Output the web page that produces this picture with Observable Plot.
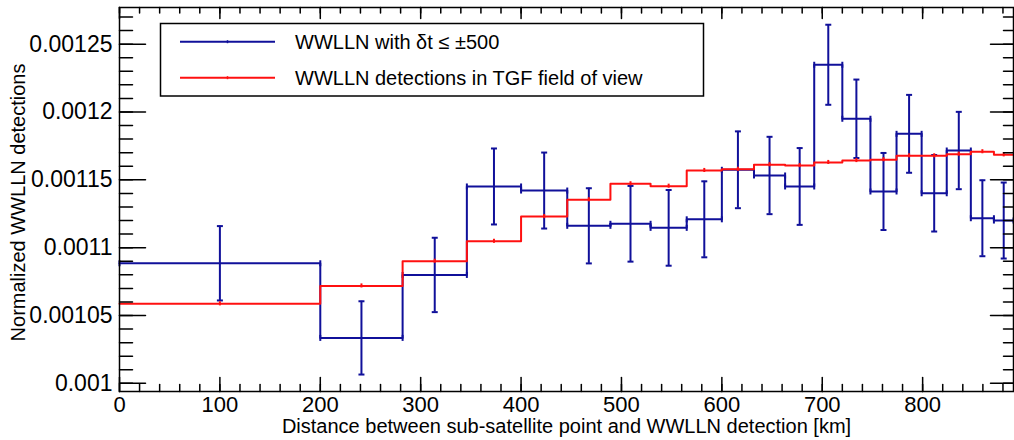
<!DOCTYPE html>
<html><head><meta charset="utf-8">
<script src="https://cdn.jsdelivr.net/npm/d3@7"></script>
<script src="https://cdn.jsdelivr.net/npm/@observablehq/plot@0.6"></script>
<style>
body{margin:0;background:#fff;}
#wrap{position:relative;width:1014px;height:440px;font-family:"Liberation Sans",Arial,Helvetica,sans-serif;}
#wrap svg{display:block;}
#overlay{position:absolute;left:0;top:0;pointer-events:none;}
</style></head><body><div id="wrap"></div>
<script>
// ---- data ----
const binEdges = [0,200,282,346,400,446,489,529,565,600,632,663,692,720,748,774,799,824,848,871,890.5];
const blueValues = [0.0010885,0.0010335,0.0010799,0.0011451,0.0011421,0.0011161,0.0011176,0.0011146,0.0011209,0.0011574,0.0011532,0.0011451,0.0012348,0.0011950,0.0011414,0.0011839,0.0011401,0.0011716,0.0011217,0.0011200];
const blueErrors = [0.0000274,0.0000270,0.0000274,0.0000280,0.0000280,0.0000277,0.0000279,0.0000279,0.0000280,0.0000283,0.0000285,0.0000283,0.0000295,0.0000289,0.0000284,0.0000287,0.0000282,0.0000285,0.0000280,0.0000280];
const redValues = [0.0010586,0.0010718,0.0010900,0.0011047,0.0011229,0.0011353,0.0011471,0.0011453,0.0011569,0.0011578,0.0011611,0.0011605,0.0011628,0.0011642,0.0011648,0.0011677,0.0011677,0.0011689,0.0011707,0.0011684];
const redErrors = [0.0000015,0.0000015,0.0000015,0.0000015,0.0000015,0.0000015,0.0000015,0.0000015,0.0000015,0.0000015,0.0000015,0.0000015,0.0000015,0.0000015,0.0000015,0.0000015,0.0000015,0.0000015,0.0000015,0.0000015];
const seriesNames = ["WWLLN with \u03b4t \u2264 \u00b1500", "WWLLN detections in TGF field of view"];
const xTicks = [0,100,200,300,400,500,600,700,800];
const xTickLabels = ["0","100","200","300","400","500","600","700","800"];
const xMinorTicks = d3.range(0, 890, 20);
const yTicks = [0.001,0.00105,0.0011,0.00115,0.0012,0.00125];
const yTickLabels = ["0.001","0.00105","0.0011","0.00115","0.0012","0.00125"];
const yMinorTicks = [0.00100,0.00101,0.00102,0.00103,0.00104,0.00105,0.00106,0.00107,0.00108,0.00109,0.00110,0.00111,0.00112,0.00113,0.00114,0.00115,0.00116,0.00117,0.00118,0.00119,0.00120,0.00121,0.00122,0.00123,0.00124,0.00125,0.00126,0.00127];
const xDomain = [0, 890.5];
const yDomain = [0.000994, 0.001277];
const xTitle = "Distance between sub-satellite point and WWLLN detection [km]";
const yTitle = "Normalized WWLLN detections";

const BLUE = "#10109a", RED = "#ff1010";
const FONT = "'Liberation Sans', Arial, Helvetica, sans-serif";

const bins = blueValues.map((v, i) => ({
  x0: binEdges[i], x1: binEdges[i+1], xc: (binEdges[i] + binEdges[i+1]) / 2,
  blue: v, bErr: blueErrors[i], red: redValues[i], rErr: redErrors[i]
}));
const last = bins[bins.length - 1];
const blueStep = bins.map(b => ({x: b.x0, y: b.blue})).concat([{x: last.x1, y: last.blue}]);
const redStep = bins.map(b => ({x: b.x0, y: b.red})).concat([{x: last.x1, y: last.red}]);
const blueEdgeCaps = bins.flatMap(b => [{x: b.x0, y: b.blue}, {x: b.x1, y: b.blue}]);

const lineShape = {draw(ctx, l) { ctx.moveTo(0, 0); ctx.lineTo(0, -l); }};
const hCap = {draw(ctx, size) { const r = Math.sqrt(size / Math.PI); ctx.moveTo(-r, 0); ctx.lineTo(r, 0); }};
const vCap = {draw(ctx, size) { const r = Math.sqrt(size / Math.PI); ctx.moveTo(0, -r); ctx.lineTo(0, r); }};

function tickMarks(values, ch, frameAnchor, rotate, length) {
  const o = {frameAnchor, rotate, length, anchor: "start", shape: lineShape, stroke: "#000", strokeWidth: 1.5};
  o[ch] = d => d;
  return Plot.vector(values, o);
}

const chart = Plot.plot({
  width: 1014, height: 440,
  marginLeft: 119, marginRight: 1, marginTop: 7, marginBottom: 49,
  style: {fontFamily: FONT, background: "#fff", color: "#000"},
  x: {domain: xDomain, axis: null},
  y: {domain: yDomain, axis: null},
  marks: [
    // blue histogram
    Plot.line(blueStep, {x: "x", y: "y", curve: "step-after", stroke: BLUE, strokeWidth: 2}),
    Plot.ruleX(bins, {x: "xc", y1: d => d.blue - d.bErr, y2: d => d.blue + d.bErr, stroke: BLUE, strokeWidth: 2}),
    Plot.dot(bins, {x: "xc", y: d => d.blue + d.bErr, symbol: hCap, r: 3, stroke: BLUE, strokeWidth: 2}),
    Plot.dot(bins, {x: "xc", y: d => d.blue - d.bErr, symbol: hCap, r: 3, stroke: BLUE, strokeWidth: 2}),
    Plot.dot(blueEdgeCaps, {x: "x", y: "y", symbol: vCap, r: 3, stroke: BLUE, strokeWidth: 2}),
    // red histogram
    Plot.line(redStep, {x: "x", y: "y", curve: "step-after", stroke: RED, strokeWidth: 2}),
    Plot.ruleX(bins, {x: "xc", y1: d => d.red - d.rErr, y2: d => d.red + d.rErr, stroke: RED, strokeWidth: 2}),
    // frame and inward ticks
    Plot.frame({stroke: "#000", strokeWidth: 1.5}),
    tickMarks(yMinorTicks, "y", "left", 90, 13),
    tickMarks(yTicks, "y", "left", 90, 26),
    tickMarks(yMinorTicks, "y", "right", -90, 10),
    tickMarks(yTicks, "y", "right", -90, 23),
    tickMarks(xMinorTicks, "x", "bottom", 0, 7),
    tickMarks(xTicks, "x", "bottom", 0, 14),
    tickMarks(xMinorTicks, "x", "top", 180, 5.5),
    tickMarks(xTicks, "x", "top", 180, 11),
    // tick labels
    Plot.axisY({ticks: yTicks, tickFormat: (d, i) => yTickLabels[i], tickSize: 0, tickPadding: 7, fontSize: 23, label: null}),
    Plot.axisX({ticks: xTicks, tickFormat: (d, i) => xTickLabels[i], tickSize: 0, tickPadding: 5, fontSize: 22, label: null}),
    // axis titles
    Plot.text([xTitle], {frameAnchor: "bottom", text: d => d, dy: 35, lineAnchor: "middle", textAnchor: "middle", fontSize: 20, fill: "#000"}),
    Plot.text([yTitle], {frameAnchor: "left", text: d => d, rotate: -90, dx: -101, dy: 3, lineAnchor: "middle", textAnchor: "middle", fontSize: 20, fill: "#000"})
  ]
});
document.getElementById("wrap").appendChild(chart);

// legend overlay (inside the plot frame, top-left)
const ov = d3.select("#wrap").append("svg").attr("id", "overlay").attr("width", 1014).attr("height", 440);
ov.append("rect").attr("x", 160.5).attr("y", 23.5).attr("width", 543).attr("height", 72.5)
  .attr("fill", "#fff").attr("stroke", "#000").attr("stroke-width", 1.5);
const legendItems = [{name: seriesNames[0], color: BLUE}, {name: seriesNames[1], color: RED}];
legendItems.forEach((it, i) => {
  const y = 41.7 + i * 36;
  ov.append("line").attr("x1", 180).attr("x2", 275).attr("y1", y).attr("y2", y).attr("stroke", it.color).attr("stroke-width", 2);
  ov.append("line").attr("x1", 227.5).attr("x2", 227.5).attr("y1", y - 1.5).attr("y2", y + 1.5).attr("stroke", it.color).attr("stroke-width", 1.5);
  ov.append("text").attr("x", 295).attr("y", y + 7).attr("font-size", 20).attr("font-family", FONT).attr("fill", "#000").text(it.name);
});
</script>
</body></html>
